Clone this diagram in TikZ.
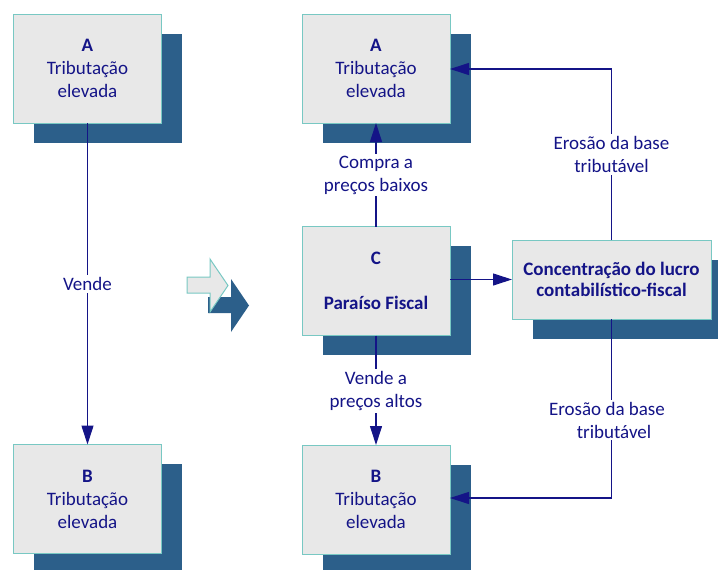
\documentclass[tikz,border=0pt]{standalone}
\usepackage{fontspec}
\setmainfont{Carlito}
\usetikzlibrary{arrows.meta}
\definecolor{ink}{RGB}{20,20,135}
\definecolor{boxfill}{RGB}{232,232,232}
\definecolor{boxedge}{RGB}{120,200,195}
\definecolor{shadowblue}{RGB}{44,95,138}
\begin{document}
\begin{tikzpicture}[x=1pt,y=-1pt,
  box/.style={draw=boxedge, fill=boxfill, line width=1pt, minimum width=148pt, minimum height=109pt,
    inner sep=0pt, outer sep=0pt, align=center, text=ink, font=\fontsize{19}{23}\selectfont},
  shadowbox/.style={fill=shadowblue, minimum width=148pt, minimum height=109pt, inner sep=0pt, outer sep=0pt},
  lbl/.style={fill=white, text=ink, align=center, font=\fontsize{19}{23}\selectfont, inner sep=2pt},
  conn/.style={draw=ink, line width=1.1pt, -{Triangle[length=19pt,width=12pt]}}]
\useasboundingbox (0,0) rectangle (718,570);
% shadows
\node[shadowbox] (sAL) at (108,88) {};
\node[shadowbox] (sBL) at (108,518.5) {};
\node[shadowbox] (sAR) at (396.5,88) {};
\node[shadowbox] (sC) at (396.5,300.5) {};
\node[shadowbox] (sBR) at (396.5,519) {};
\node[shadowbox, minimum width=199pt, minimum height=79pt] (sD) at (632.5,299) {};
% middle arrow
\fill[fill=shadowblue] (208,297) -- (231,297) -- (231,279) -- (249,305.5) -- (231,332) -- (231,313) -- (208,313) -- cycle;
\filldraw[fill=boxfill, draw=boxedge, line width=1pt] (187,277) -- (210,277) -- (210,259) -- (228,285.5) -- (210,312) -- (210,293) -- (187,293) -- cycle;
% boxes
\node[box] (AL) at (87.5,68.5) {\textbf{A}\\Tributação\\elevada};
\node[box] (BL) at (87.5,499) {\textbf{B}\\Tributação\\elevada};
\node[box] (AR) at (376,68.5) {\textbf{A}\\Tributação\\elevada};
\node[box] (C) at (376,281) {\textbf{C}\\[22pt]\textbf{Paraíso Fiscal}};
\node[box] (BR) at (376,499.5) {\textbf{B}\\Tributação\\elevada};
\node[box, minimum width=199pt, minimum height=79pt, font=\fontsize{19}{21}\selectfont\bfseries] (D) at (611.5,279.5)
  {Concentração do lucro\\contabilístico-fiscal};
% connectors
\draw[conn] (AL.south) -- (BL.north);
\draw[conn] (C.north) -- (AR.south);
\draw[conn] (C.south) -- (BR.north);
\draw[conn] (C.east |- D.west) -- (D.west);
\coordinate (tk) at (611.5,69);
\coordinate (bk) at (611.5,498);
\draw[conn] (D.north) -- (tk) -- (AR.east |- tk);
\draw[conn] (D.south) -- (bk) -- (BR.east |- bk);
% labels
\node[lbl] (l1) at (87.5,284) {Vende};
\node[lbl] (l2) at (376,175) {Compra a\\preços baixos};
\node[lbl] (l3) at (376,391) {Vende a\\preços altos};
\node[lbl] (l4) at (611.5,154.5) {Erosão da base\\tributável};
\node[lbl] (l5) at (607,420) {Erosão da base\\\hspace*{14pt}tributável};
\end{tikzpicture}
\end{document}
